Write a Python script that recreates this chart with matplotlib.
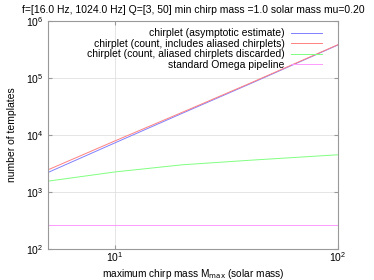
import matplotlib
matplotlib.use("Agg")
import matplotlib.pyplot as plt
from matplotlib.ticker import NullLocator

# maximum chirp mass (solar mass)
mmax = [5, 10, 20, 40, 100]

# number of templates
asymptotic = [2200, 7300, 24000, 78000, 380000]
aliased_incl = [2450, 7900, 25000, 80000, 385000]
aliased_disc = [1550, 2250, 3000, 3600, 4500]
omega = [265, 265, 265, 265, 265]

plt.rcParams["font.family"] = "Liberation Sans"
plt.rcParams["font.size"] = 7.5

fig = plt.figure(figsize=(3.74, 2.8), dpi=100)
ax = fig.add_axes([48 / 374, 1 - 249 / 280, 290 / 374, 228 / 280])

lw = 0.7
ax.plot(mmax, asymptotic, color="#8080ff", lw=lw, label="chirplet (asymptotic estimate)")
ax.plot(mmax, aliased_incl, color="#ff8080", lw=lw, label="chirplet (count, includes aliased chirplets)")
ax.plot(mmax, aliased_disc, color="#80ff80", lw=lw, label="chirplet (count, aliased chirplets discarded)")
ax.plot(mmax, omega, color="#ff99ff", lw=lw, label="standard Omega pipeline")

ax.set_xscale("log")
ax.set_yscale("log")
ax.set_xlim(5, 100)
ax.set_ylim(1e2, 1e6)
ax.xaxis.set_minor_locator(NullLocator())
ax.yaxis.set_minor_locator(NullLocator())
ax.grid(True, color="#e0e0e0", lw=0.6)
for s in ax.spines.values():
    s.set_color("#999999")
    s.set_linewidth(0.8)
ax.tick_params(direction="in", length=3, color="#999999", top=True, right=True)
ax.tick_params(axis="x", pad=1)

ax.set_xlabel("maximum chirp mass M$_{\\mathrm{max}}$ (solar mass)", fontsize=7.3)
ax.xaxis.set_label_coords(0.5, -0.077)
ax.set_ylabel("number of templates", labelpad=6)
ax.set_title("f=[16.0 Hz, 1024.0 Hz] Q=[3, 50] min chirp mass =1.0 solar mass mu=0.20", fontsize=7.5, pad=6)

ax.legend(loc="upper right", markerfirst=False, frameon=False, fontsize=7.5,
          handlelength=3, labelspacing=0.05, borderpad=0.2, handletextpad=0.6,
          bbox_to_anchor=(0.97, 1.0))

fig.savefig("out.png", dpi=100)
